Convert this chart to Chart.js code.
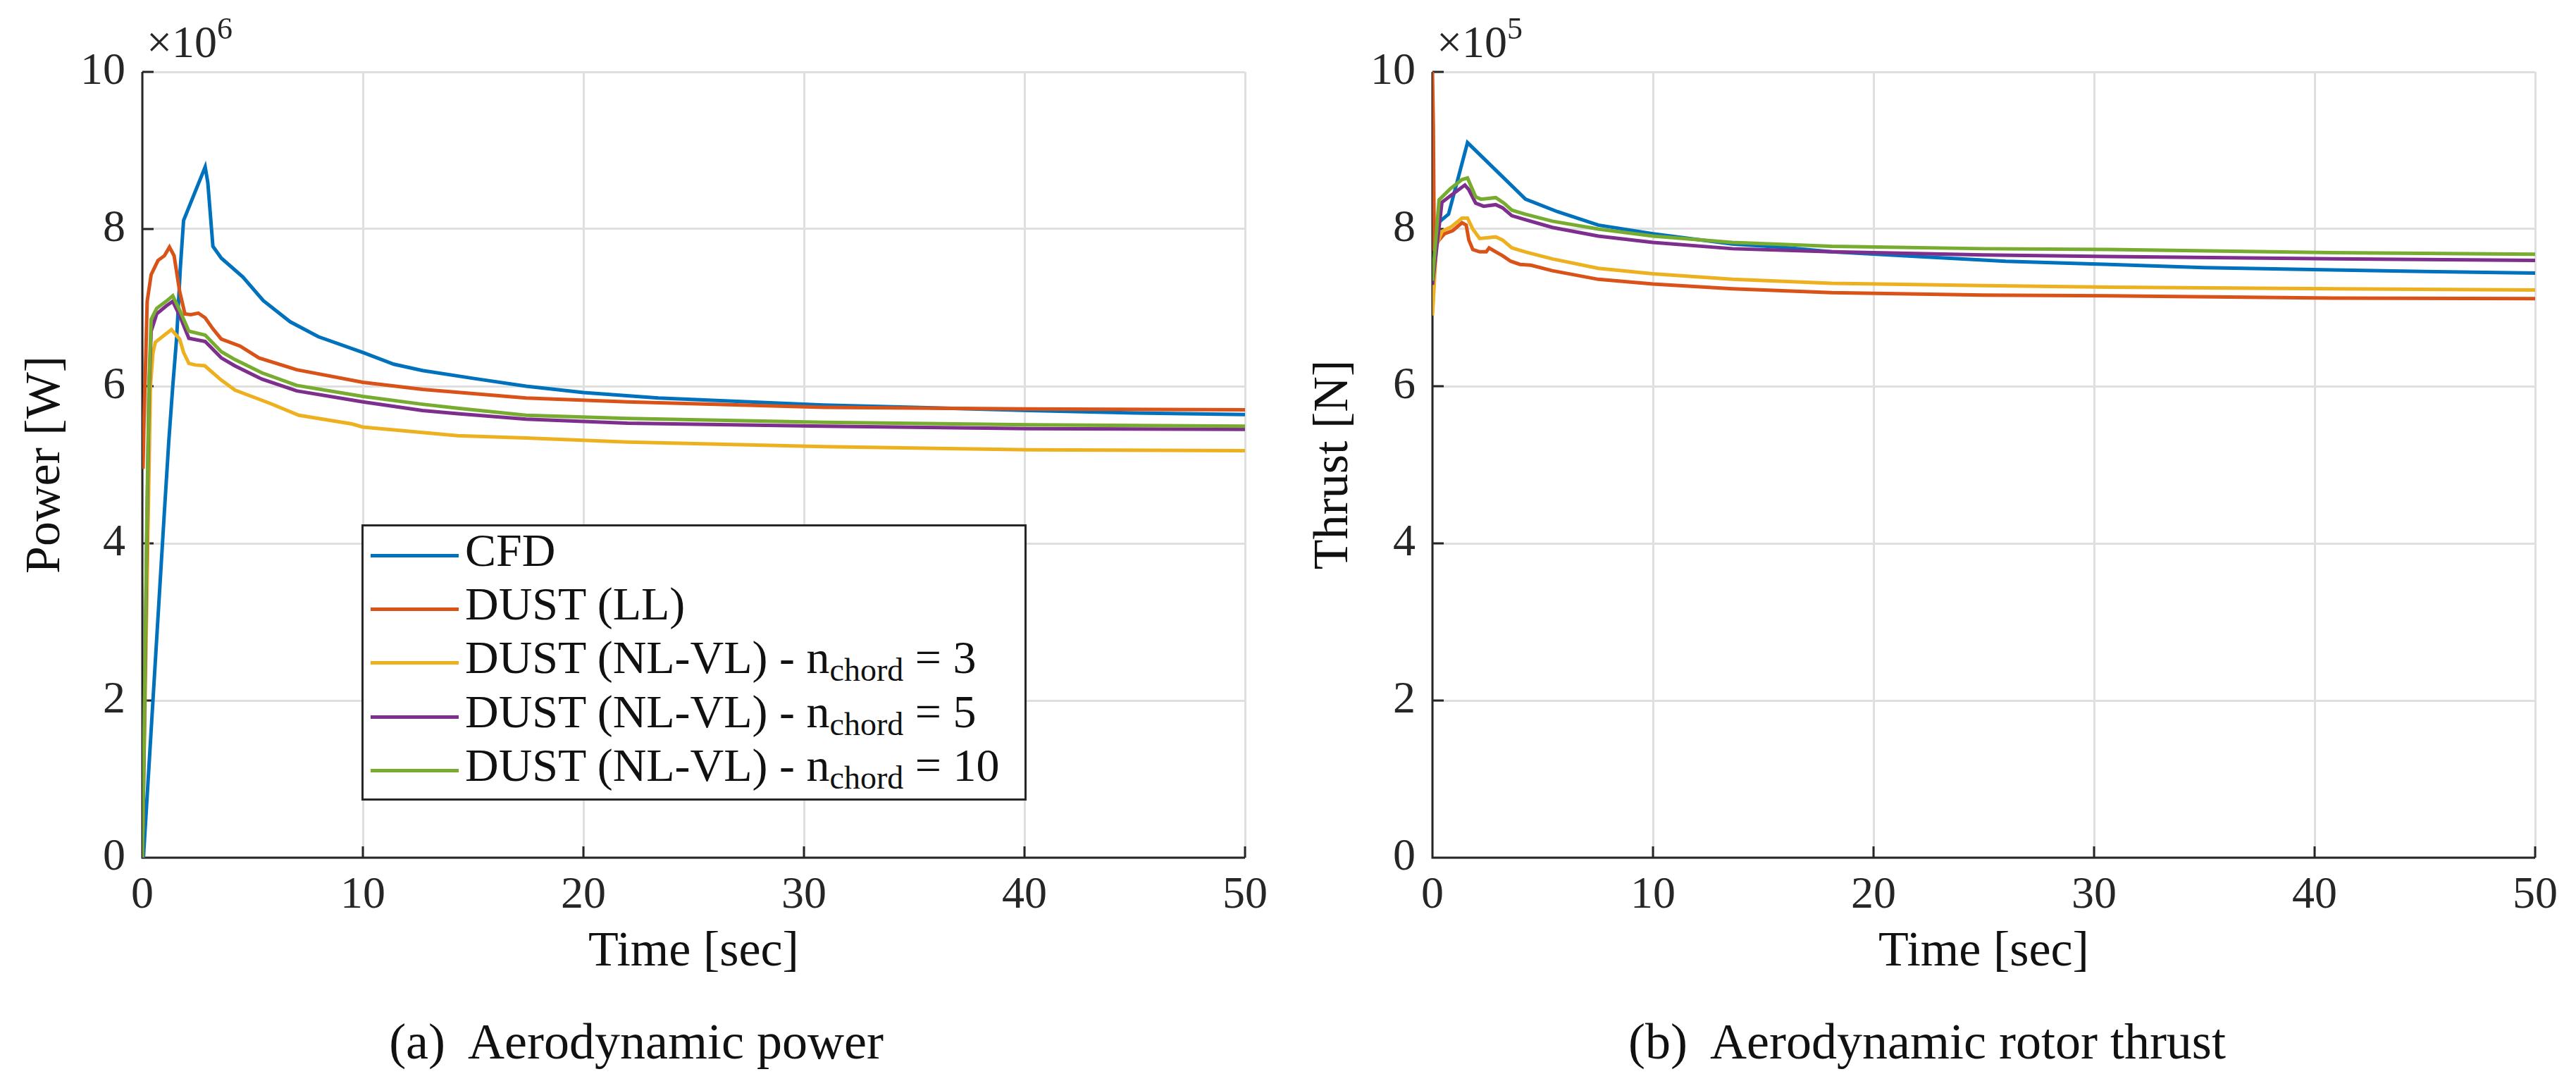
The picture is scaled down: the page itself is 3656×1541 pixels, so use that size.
<!DOCTYPE html>
<html>
<head>
<meta charset="utf-8">
<title>Aerodynamic power and thrust</title>
<script src="https://cdn.jsdelivr.net/npm/chart.js@4.4.0/dist/chart.umd.min.js"></script>
<style>
  html, body { margin: 0; padding: 0; background: #fff; }
  body {
    width: 3656px; height: 1541px; position: relative; overflow: hidden;
    font-family: 'Liberation Serif', 'DejaVu Serif', serif; color: #262626;
  }
  canvas { position: absolute; top: 0; }
  #powerChart { left: 0; }
  #thrustChart { left: 1828px; }
  .exp { position: absolute; font-size: 64px; line-height: 1; white-space: pre; }
  .exp span { position: relative; top: -26px; font-size: 44px; }
  .caption {
    position: absolute; font-size: 72px; line-height: 1; white-space: pre;
    transform: translate(-50%, -50%); color: #111;
  }
  .legend {
    position: absolute; left: 513px; top: 744px; width: 938px; height: 386px;
    border: 3px solid #262626; background: #fff;
  }
  .legend .row { position: absolute; left: 0; height: 70px; width: 100%; }
  .legend .swatch { position: absolute; left: 10px; width: 125px; height: 5px; top: 40px; }
  .legend .label {
    position: absolute; left: 144px; top: 0; font-size: 66px; line-height: 70px;
    white-space: pre; color: #111;
  }
  .legend sub { font-size: 46px; position: relative; top: 11px; vertical-align: baseline; }
</style>
</head>
<body>
<canvas id="powerChart" width="1828" height="1541"></canvas>
<canvas id="thrustChart" width="1828" height="1541"></canvas>
<div class="exp" style="left:208px; top:28px;">×10<span>6</span></div>
<div class="exp" style="left:2039px; top:28px;">×10<span>5</span></div>
<div class="legend" id="legend"></div>
<div class="caption" style="left:903px; top:1478px;">(a)  Aerodynamic power</div>
<div class="caption" style="left:2735px; top:1478px;">(b)  Aerodynamic rotor thrust</div>

<script>
// series: CFD, DUST (LL), DUST (NL-VL) with n_chord = 3, 5, 10
const seriesNames = ['CFD', 'DUST (LL)', 'DUST (NL-VL)', 'DUST (NL-VL)', 'DUST (NL-VL)'];
const nChord = [null, null, 3, 5, 10];
const seriesColors = ['#0072BD', '#D95319', '#EDB120', '#7E2F8E', '#77AC30'];

const xTicks = [0, 10, 20, 30, 40, 50];
const yTicks = [0, 2, 4, 6, 8, 10];

// power, in units of 10^6 W
const cfdPowerTime = [0, 0.05, 1.0, 1.2, 1.38, 1.56, 1.72, 1.87, 2.85, 2.97, 3.2, 3.58, 4.56, 5.48, 6.7, 7.98, 10, 11.4, 12.7, 15, 17.4, 20, 23.4, 30.9, 35, 40.2, 45, 50];
const cfdPower = [0, 0, 4.4, 5.3, 6.0, 6.63, 7.49, 8.11, 8.79, 8.59, 7.78, 7.63, 7.39, 7.09, 6.82, 6.63, 6.43, 6.28, 6.2, 6.1, 6.0, 5.92, 5.85, 5.76, 5.73, 5.69, 5.66, 5.64];

const llPowerTime = [0, 0.03, 0.08, 0.16, 0.22, 0.4, 0.71, 1.0, 1.23, 1.44, 1.69, 1.93, 2.2, 2.54, 2.85, 3.2, 3.58, 4.44, 5.29, 7.0, 10, 12.7, 17.4, 22, 30.9, 40, 50];
const llPower = [5.1, 4.95, 5.6, 6.42, 7.08, 7.42, 7.6, 7.66, 7.77, 7.66, 7.21, 6.92, 6.91, 6.93, 6.87, 6.73, 6.6, 6.51, 6.36, 6.21, 6.05, 5.96, 5.85, 5.80, 5.73, 5.71, 5.70];

const nc3PowerTime = [0, 0.1, 0.2, 0.37, 0.48, 0.59, 1.0, 1.32, 1.69, 1.87, 2.11, 2.4, 2.83, 3.57, 4.2, 5.8, 7.1, 9.5, 10, 14.3, 17.4, 22, 30.9, 40.2, 50];
const nc3Power = [0, 1.6, 3.25, 6.0, 6.42, 6.56, 6.65, 6.72, 6.6, 6.43, 6.29, 6.27, 6.26, 6.08, 5.95, 5.78, 5.63, 5.52, 5.48, 5.37, 5.34, 5.29, 5.23, 5.19, 5.18];

const nc5PowerTime = [0, 0.08, 0.2, 0.3, 0.4, 0.65, 1.08, 1.38, 1.69, 2.11, 2.85, 3.58, 4.19, 5.42, 7.0, 10, 12.7, 14.3, 17.4, 22, 30.9, 40.2, 50];
const nc5Power = [0, 1.4, 4.0, 5.9, 6.7, 6.92, 7.02, 7.08, 6.9, 6.61, 6.57, 6.36, 6.26, 6.09, 5.94, 5.80, 5.69, 5.65, 5.58, 5.53, 5.49, 5.46, 5.45];

const nc10PowerTime = [0, 0.08, 0.2, 0.3, 0.4, 0.65, 1.08, 1.38, 1.69, 2.11, 2.85, 3.58, 4.19, 5.42, 7.0, 10, 12.7, 14.3, 17.4, 22, 30.9, 40.2, 50];
const nc10Power = [0, 1.5, 4.2, 6.0, 6.85, 6.99, 7.08, 7.15, 6.97, 6.7, 6.65, 6.44, 6.34, 6.17, 6.01, 5.87, 5.77, 5.72, 5.63, 5.59, 5.54, 5.51, 5.49];

// thrust, in units of 10^5 N
const cfdThrustTime = [0, 0.3, 0.73, 1.1, 1.59, 4.22, 5.68, 7.52, 10, 13.6, 15.8, 18.1, 22, 26, 30.7, 35, 40.8, 45, 50];
const cfdThrust = [8.0, 8.09, 8.19, 8.58, 9.10, 8.38, 8.22, 8.05, 7.94, 7.81, 7.77, 7.71, 7.65, 7.59, 7.55, 7.51, 7.48, 7.46, 7.44];

const llThrustTime = [0, 0.04, 0.08, 0.3, 0.55, 0.92, 1.34, 1.53, 1.65, 1.83, 2.14, 2.44, 2.57, 2.87, 3.18, 3.55, 3.97, 4.46, 5.44, 7.52, 10, 13.6, 18.1, 25, 30.7, 40.8, 50];
const llThrust = [10, 9.3, 7.78, 7.86, 7.94, 7.98, 8.08, 8.05, 7.86, 7.74, 7.71, 7.71, 7.76, 7.71, 7.66, 7.59, 7.55, 7.54, 7.47, 7.36, 7.30, 7.24, 7.19, 7.16, 7.15, 7.12, 7.115];

const nc3ThrustTime = [0, 0.18, 0.43, 0.86, 1.34, 1.59, 1.83, 2.14, 2.87, 3.18, 3.6, 4.2, 5.44, 7.52, 10, 13.6, 18.1, 25, 30.7, 40.8, 50];
const nc3Thrust = [6.9, 7.79, 7.97, 8.03, 8.14, 8.14, 8.0, 7.88, 7.9, 7.86, 7.76, 7.71, 7.62, 7.5, 7.43, 7.36, 7.31, 7.28, 7.26, 7.24, 7.225];

const nc5ThrustTime = [0, 0.43, 0.8, 1.47, 1.65, 1.96, 2.32, 2.87, 3.18, 3.6, 4.2, 5.44, 7.52, 10, 13.6, 18.1, 25, 30.7, 40.8, 50];
const nc5Thrust = [7.29, 8.34, 8.42, 8.56, 8.5, 8.33, 8.29, 8.31, 8.27, 8.17, 8.12, 8.02, 7.91, 7.83, 7.75, 7.71, 7.67, 7.65, 7.62, 7.60];

const nc10ThrustTime = [0, 0.3, 0.8, 1.34, 1.59, 1.96, 2.2, 2.87, 3.24, 3.6, 4.2, 5.44, 7.52, 10, 13.6, 18.1, 25, 30.7, 40.8, 50];
const nc10Thrust = [7.34, 8.37, 8.51, 8.63, 8.65, 8.41, 8.38, 8.4, 8.33, 8.24, 8.19, 8.1, 8.0, 7.91, 7.83, 7.78, 7.75, 7.74, 7.70, 7.68];

const FONT = "'Liberation Serif', 'DejaVu Serif', serif";
const AXIS_COLOR = '#262626';
const GRID_COLOR = '#dfdfdf';
const TICK_LEN = 16;

function toPoints(times, values) {
  return times.map((t, i) => ({ x: t, y: values[i] }));
}

function plainLabel(i) {
  return nChord[i] === null ? seriesNames[i] : `${seriesNames[i]} - nchord = ${nChord[i]}`;
}

// MATLAB style axes: left and bottom lines with inward ticks
const matlabAxes = {
  id: 'matlabAxes',
  beforeDatasetsDraw(chart) {
    const { ctx, chartArea: a, scales: { x, y } } = chart;
    ctx.save();
    ctx.strokeStyle = AXIS_COLOR;
    ctx.lineWidth = 3;
    ctx.beginPath();
    ctx.moveTo(a.left, a.top);
    ctx.lineTo(a.left, a.bottom);
    ctx.lineTo(a.right, a.bottom);
    x.ticks.forEach(t => {
      const px = x.getPixelForValue(t.value);
      ctx.moveTo(px, a.bottom);
      ctx.lineTo(px, a.bottom - TICK_LEN);
    });
    y.ticks.forEach(t => {
      const py = y.getPixelForValue(t.value);
      ctx.moveTo(a.left, py);
      ctx.lineTo(a.left + TICK_LEN, py);
    });
    ctx.stroke();
    ctx.restore();
  },
};

function renderPanel(id, series, yTitle, yAxisWidth, rightPad) {
  const ctx = document.getElementById(id).getContext('2d');
  return new Chart(ctx, {
    type: 'line',
    data: {
      datasets: series.map((s, i) => ({
        label: plainLabel(i),
        data: toPoints(s[0], s[1]),
        borderColor: seriesColors[i],
        borderWidth: 5,
        pointRadius: 0,
        tension: 0,
        fill: false,
        order: series.length - i,
      })),
    },
    options: {
      responsive: false,
      animation: false,
      devicePixelRatio: 1,
      layout: { padding: { left: 0, top: 102, right: rightPad, bottom: 124 } },
      plugins: { legend: { display: false }, tooltip: { enabled: false } },
      scales: {
        x: {
          type: 'linear', min: 0, max: 50,
          afterBuildTicks: (scale) => { scale.ticks = xTicks.map(v => ({ value: v })); },
          afterFit: (scale) => { scale.height = 200; },
          grid: { color: GRID_COLOR, lineWidth: 3, drawTicks: false },
          border: { display: false },
          ticks: { padding: 16, color: AXIS_COLOR, font: { family: FONT, size: 64 } },
          title: {
            display: true, text: 'Time [sec]', color: '#111',
            font: { family: FONT, size: 70 }, padding: { top: 0, bottom: 23 },
          },
        },
        y: {
          type: 'linear', min: 0, max: 10,
          afterBuildTicks: (scale) => { scale.ticks = yTicks.map(v => ({ value: v })); },
          afterFit: (scale) => { scale.width = yAxisWidth; },
          grid: { color: GRID_COLOR, lineWidth: 3, drawTicks: false },
          border: { display: false },
          ticks: { padding: 24, color: AXIS_COLOR, font: { family: FONT, size: 64 } },
          title: {
            display: true, text: yTitle, color: '#111',
            font: { family: FONT, size: 70 }, padding: { top: 24, bottom: 0 },
          },
        },
      },
    },
    plugins: [matlabAxes],
  });
}

renderPanel('powerChart', [
  [cfdPowerTime, cfdPower],
  [llPowerTime, llPower],
  [nc3PowerTime, nc3Power],
  [nc5PowerTime, nc5Power],
  [nc10PowerTime, nc10Power],
], 'Power [W]', 202, 61);

renderPanel('thrustChart', [
  [cfdThrustTime, cfdThrust],
  [llThrustTime, llThrust],
  [nc3ThrustTime, nc3Thrust],
  [nc5ThrustTime, nc5Thrust],
  [nc10ThrustTime, nc10Thrust],
], 'Thrust [N]', 205, 58);

// legend of the power panel, with the subscript written as HTML
const legend = document.getElementById('legend');
const rowCenters = [41, 117, 193, 270, 346];
seriesNames.forEach((name, i) => {
  const row = document.createElement('div');
  row.className = 'row';
  row.style.top = (rowCenters[i] - 42) + 'px';
  const swatch = document.createElement('div');
  swatch.className = 'swatch';
  swatch.style.background = seriesColors[i];
  const label = document.createElement('div');
  label.className = 'label';
  label.innerHTML = nChord[i] === null
    ? name
    : `${name} - n<sub>chord</sub> = ${nChord[i]}`;
  row.appendChild(swatch);
  row.appendChild(label);
  legend.appendChild(row);
});
</script>
</body>
</html>
